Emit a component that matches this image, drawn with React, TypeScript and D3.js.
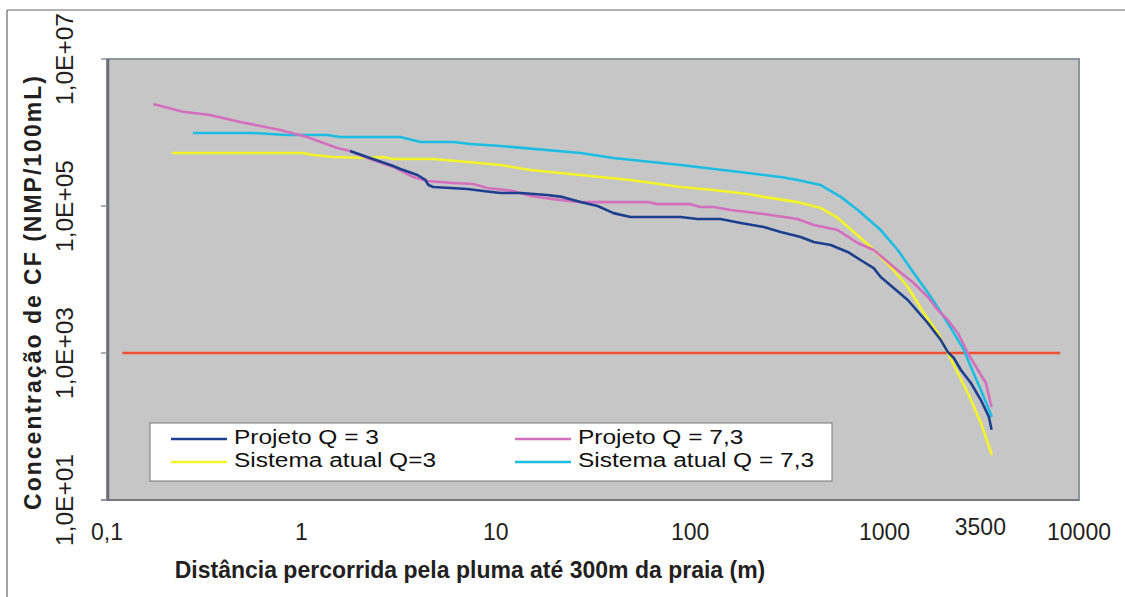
import React from "react";
import * as d3 from "d3";

// ---- data ----
const xTickValues = [0.1, 1, 10, 100, 1000, 10000];
const xTickLabels = ["0,1", "1", "10", "100", "1000", "10000"];
const yTickValues = [10, 1000, 100000, 10000000];
const yTickLabels = ["1,0E+01", "1,0E+03", "1,0E+05", "1,0E+07"];
const extraXTick = 3500;
const extraXLabel = "3500";

const limitX = [0.12, 8000];
const limitY = 1000;

const projeto3X = [1.78, 2.18, 2.97, 3.23, 3.95, 4.34, 4.5, 4.77, 5.84, 7.14, 8.63, 10.6, 13.4, 18.4, 22.0, 27.3, 33.4, 40.3, 49.3, 60.4, 89.3, 109, 143, 182, 239, 292, 370, 432, 528, 646, 781, 879, 955, 1316, 1668, 1946, 2115, 2271, 2468, 2780, 3128, 3440, 3550];
const projeto3Y = [5.6e5, 4.64e5, 3.5e5, 3.19e5, 2.64e5, 2.26e5, 1.93e5, 1.81e5, 1.76e5, 1.7e5, 1.6e5, 1.5e5, 1.5e5, 1.41e5, 1.33e5, 1.13e5, 1.0e5, 8.0e4, 7.1e4, 7.1e4, 7.1e4, 6.65e4, 6.65e4, 5.87e4, 5.18e4, 4.43e4, 3.79e4, 3.24e4, 2.95e4, 2.37e4, 1.73e4, 1.43e4, 1.08e4, 5.26e3, 2.56e3, 1.5e3, 1.03e3, 855, 587, 391, 229, 135, 90];

const projeto73X = [0.173, 0.246, 0.339, 0.484, 0.778, 1.07, 1.53, 1.78, 2.18, 2.97, 3.76, 4.44, 6.05, 7.67, 9.06, 12.3, 15.1, 19.8, 27.3, 40.3, 60.4, 67.9, 100.5, 113, 132, 161, 239, 357, 432, 574, 728, 879, 1114, 1413, 1668, 1879, 2115, 2383, 2680, 3020, 3320, 3450, 3550];
const projeto73Y = [2.44e6, 1.92e6, 1.73e6, 1.39e6, 1.08e6, 8.7e5, 6.15e5, 5.6e5, 4.5e5, 3.4e5, 2.48e5, 2.19e5, 2.06e5, 1.99e5, 1.76e5, 1.6e5, 1.37e5, 1.24e5, 1.13e5, 1.13e5, 1.13e5, 1.06e5, 1.06e5, 9.7e4, 9.7e4, 8.8e4, 7.8e4, 6.65e4, 5.5e4, 4.71e4, 3.14e4, 2.52e4, 1.48e4, 8.96e3, 5.78e3, 3.85e3, 2.81e3, 1.87e3, 1000, 587, 391, 252, 184];

const atual3X = [0.216, 1.02, 1.15, 1.46, 2.18, 2.64, 2.97, 4.77, 7.14, 10.6, 15.1, 27.3, 49.3, 89.3, 132, 198, 239, 357, 469, 574, 694, 849, 1077, 1316, 1592, 1879, 2115, 2383, 2680, 3128, 3565];
const atual3Y = [5.26e5, 5.26e5, 4.94e5, 4.64e5, 4.5e5, 4.64e5, 4.36e5, 4.36e5, 3.97e5, 3.61e5, 3.09e5, 2.64e5, 2.26e5, 1.81e5, 1.65e5, 1.46e5, 1.33e5, 1.13e5, 9.4e4, 6.87e4, 4.43e4, 2.77e4, 1.48e4, 7.9e3, 3.5e3, 1.87e3, 1000, 535, 286, 112, 41];

const atual73X = [0.277, 0.565, 0.845, 1.36, 1.58, 3.23, 4.09, 6.05, 7.4, 10.6, 27.3, 40.3, 89.3, 198, 292, 357, 469, 595, 728, 955, 1169, 1413, 1730, 2018, 2271, 2558, 2780, 3128, 3565];
const atual73Y = [9.84e5, 9.84e5, 9.25e5, 9.25e5, 8.69e5, 8.69e5, 7.43e5, 7.43e5, 6.98e5, 6.55e5, 5.26e5, 4.5e5, 3.61e5, 2.81e5, 2.48e5, 2.26e5, 1.93e5, 1.33e5, 8.83e4, 4.71e4, 2.52e4, 1.23e4, 5.78e3, 3.09e3, 1.87e3, 1.1e3, 645, 314, 135];

const seriesNames = ["Projeto Q = 3", "Projeto Q = 7,3", "Sistema atual Q=3", "Sistema atual Q = 7,3"];
const seriesColors = ["#1d3f8e", "#d46fbd", "#f4f42a", "#1bbde2"];

const xTitle = "Distância percorrida pela pluma até 300m da praia (m)";
const yTitle = "Concentração de CF (NMP/100mL)";

export default function App() {
  const W = 1125, H = 597;
  const left = 107, right = 1079, top = 59, bottom = 500;
  const x = d3.scaleLog().domain([0.1, 10000]).range([left, right]);
  const y = d3.scaleLog().domain([10, 1e7]).range([bottom, top]);
  const line = d3.line<[number, number]>().x(d => x(d[0])).y(d => y(d[1]));

  const series = [
    { xs: projeto3X, ys: projeto3Y },
    { xs: projeto73X, ys: projeto73Y },
    { xs: atual3X, ys: atual3Y },
    { xs: atual73X, ys: atual73Y },
  ];
  // draw order: cyan, yellow, pink, blue on top
  const order = [3, 2, 1, 0];
  const font = "'Liberation Sans', Arial, sans-serif";

  const legendItems = [
    { i: 0, lx: 171, ty: 444 },
    { i: 1, lx: 515, ty: 444 },
    { i: 2, lx: 171, ty: 467 },
    { i: 3, lx: 515, ty: 467 },
  ];

  return (
    <svg width={W} height={H} style={{ position: "absolute", left: 0, top: 0, background: "#fff" }}>
      {/* outer frame (top and left) */}
      <line x1={7} y1={10} x2={W} y2={10} stroke="#666" strokeWidth={1.2} />
      <line x1={7} y1={10} x2={7} y2={H} stroke="#666" strokeWidth={1.2} />

      {/* plot area */}
      <rect x={left} y={top} width={right - left} height={bottom - top} fill="#c6c6c6" stroke="#8e959b" strokeWidth={2} />
      <line x1={left + 1} y1={top} x2={left + 1} y2={bottom} stroke="#6b6f74" strokeWidth={2.5} />
      <line x1={left - 6} y1={bottom} x2={right} y2={bottom} stroke="#6b6f74" strokeWidth={1.5} />

      {/* y ticks */}
      {yTickValues.map((v, k) => (
        <g key={"yt" + k}>
          <line x1={left - 6} x2={left} y1={y(v)} y2={y(v)} stroke="#8e959b" strokeWidth={1.5} />
          <text transform={`translate(73,${y(v)}) rotate(-90)`} textAnchor="middle" fontFamily={font} fontSize={24.5} fill="#231f20">
            {yTickLabels[k]}
          </text>
        </g>
      ))}

      {/* x tick labels */}
      {xTickValues.map((v, k) => (
        <text key={"xt" + k} x={x(v)} y={540} textAnchor="middle" fontFamily={font} fontSize={23} fill="#231f20">
          {xTickLabels[k]}
        </text>
      ))}
      <text x={x(extraXTick) - 10} y={535} textAnchor="middle" fontFamily={font} fontSize={23} fill="#231f20">
        {extraXLabel}
      </text>

      {/* limit line */}
      <line x1={x(limitX[0])} x2={x(limitX[1])} y1={y(limitY)} y2={y(limitY)} stroke="#f05030" strokeWidth={2.5} />

      {/* series */}
      {order.map(i => {
        const pts: [number, number][] = series[i].xs.map((xv, k) => [xv, series[i].ys[k]]);
        return <path key={"s" + i} d={line(pts) || ""} fill="none" stroke={seriesColors[i]} strokeWidth={2.6} strokeLinejoin="round" />;
      })}

      {/* legend */}
      <rect x={150} y={423} width={682} height={58} fill="#fff" stroke="#777" strokeWidth={1} />
      {legendItems.map(it => (
        <g key={"lg" + it.i}>
          <line x1={it.lx} x2={it.lx + 56} y1={it.ty - 5} y2={it.ty - 5} stroke={seriesColors[it.i]} strokeWidth={2.6} />
          <text transform={`translate(${it.lx + 63},${it.ty}) scale(1,0.85)`} fontFamily={font} fontSize={24.5} fill="#111">
            {seriesNames[it.i]}
          </text>
        </g>
      ))}

      {/* axis titles */}
      <text x={470} y={578} textAnchor="middle" fontFamily={font} fontWeight="bold" fontSize={23} fill="#231f20">
        {xTitle}
      </text>
      <text transform={`translate(41,292) rotate(-90)`} textAnchor="middle" fontFamily={font} fontWeight="bold" fontSize={23} letterSpacing={2} fill="#231f20">
        {yTitle}
      </text>
    </svg>
  );
}
